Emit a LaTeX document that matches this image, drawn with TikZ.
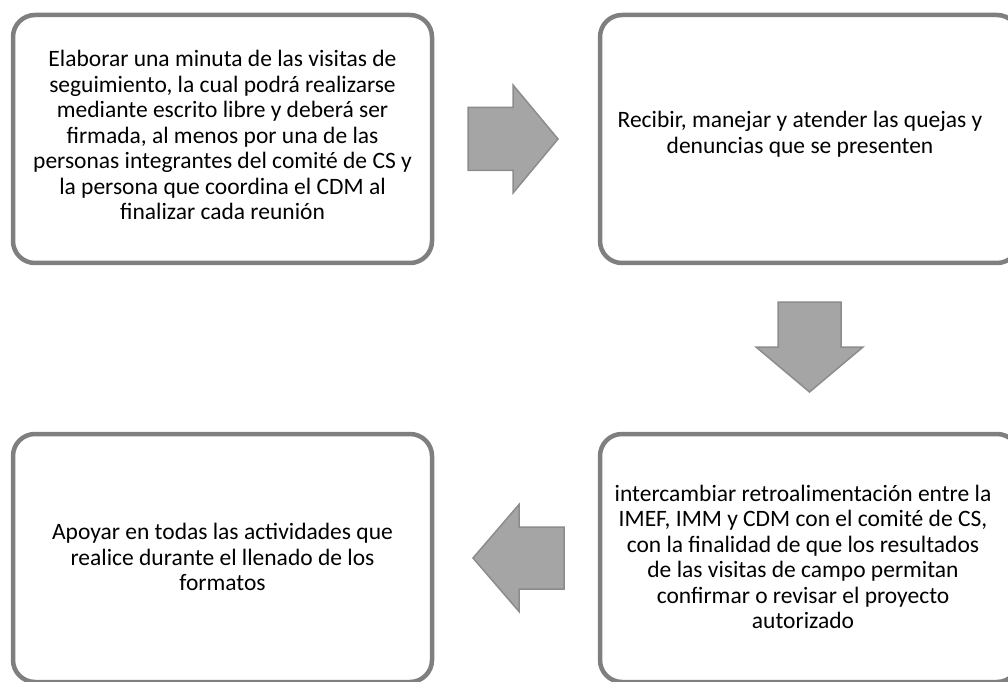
\documentclass[tikz,border=0pt]{standalone}
\usepackage{fontspec}
\setmainfont{Carlito}
\usepackage{tikz}
\usetikzlibrary{positioning,calc}
\definecolor{boxgray}{HTML}{7F7F7F}
\definecolor{arrowfill}{HTML}{A5A5A5}
\definecolor{arrowline}{HTML}{8C8C8C}

\begin{document}
\begin{tikzpicture}[x=1pt, y=1pt,
    card/.style={draw=boxgray, line width=4.5pt, rounded corners=22pt,
        minimum width=419pt, minimum height=248pt, inner sep=0pt},
    cardtext/.style={align=center, font=\fontsize{23.5}{25.5}\selectfont},
    blockarrow/.style={fill=arrowfill, draw=arrowline, line width=1.5pt}]
    \useasboundingbox (0,0) rectangle (1008,681);

    \node[card] (elaborar) at (222.5,542) {};
    \node[card, right=163.5pt of elaborar] (recibir) {};
    \node[card, below=166.5pt of recibir] (intercambiar) {};
    \node[card, left=163.5pt of intercambiar] (apoyar) {};

    \node[cardtext] (elaborartxt) at ([yshift=4pt]elaborar.center)
        {Elaborar una minuta de las visitas de\\
         seguimiento, la cual podrá realizarse\\
         mediante escrito libre y deberá ser\\
         firmada, al menos por una de las\\
         personas integrantes del comité de CS y\\
         la persona que coordina el CDM al\\
         finalizar cada reunión};
    \node[cardtext] (recibirtxt) at ([xshift=-9.5pt, yshift=5pt]recibir.center)
        {Recibir, manejar y atender las quejas y\\
         denuncias que se presenten};
    \node[cardtext] (intercambiartxt) at ([xshift=-6.5pt, yshift=1pt]intercambiar.center)
        {intercambiar retroalimentación entre la\\
         IMEF, IMM y CDM con el comité de CS,\\
         con la finalidad de que los resultados\\
         de las visitas de campo permitan\\
         confirmar o revisar el proyecto\\
         autorizado};
    \node[cardtext] (apoyartxt) at ([yshift=1pt]apoyar.center)
        {Apoyar en todas las actividades que\\
         realice durante el llenado de los\\
         formatos};

    % block arrows between the cards
    \coordinate (a1) at ($(elaborar.east)!0.5!(recibir.west)+(-3,0)$);
    \coordinate (a2) at ($(recibir.south)!0.5!(intercambiar.north)+(0,1.5)$);
    \coordinate (a3) at ($(apoyar.east)!0.5!(intercambiar.west)+(3,0)$);

    \draw[blockarrow] ($(a1)+(-45,31.5)$) -- ++(45,0) -- ++(0,22.5)
        -- ++(45,-54) -- ++(-45,-54) -- ++(0,22.5) -- ++(-45,0) -- cycle;
    \draw[blockarrow] ($(a2)+(-31.5,45)$) -- ++(0,-45) -- ++(-22,0)
        -- ++(53.5,-45) -- ++(53.5,45) -- ++(-22,0) -- ++(0,45) -- cycle;
    \draw[blockarrow] ($(a3)+(45,31)$) -- ++(-45,0) -- ++(0,22.5)
        -- ++(-46,-53.5) -- ++(46,-53.5) -- ++(0,22.5) -- ++(45,0) -- cycle;
\end{tikzpicture}
\end{document}
